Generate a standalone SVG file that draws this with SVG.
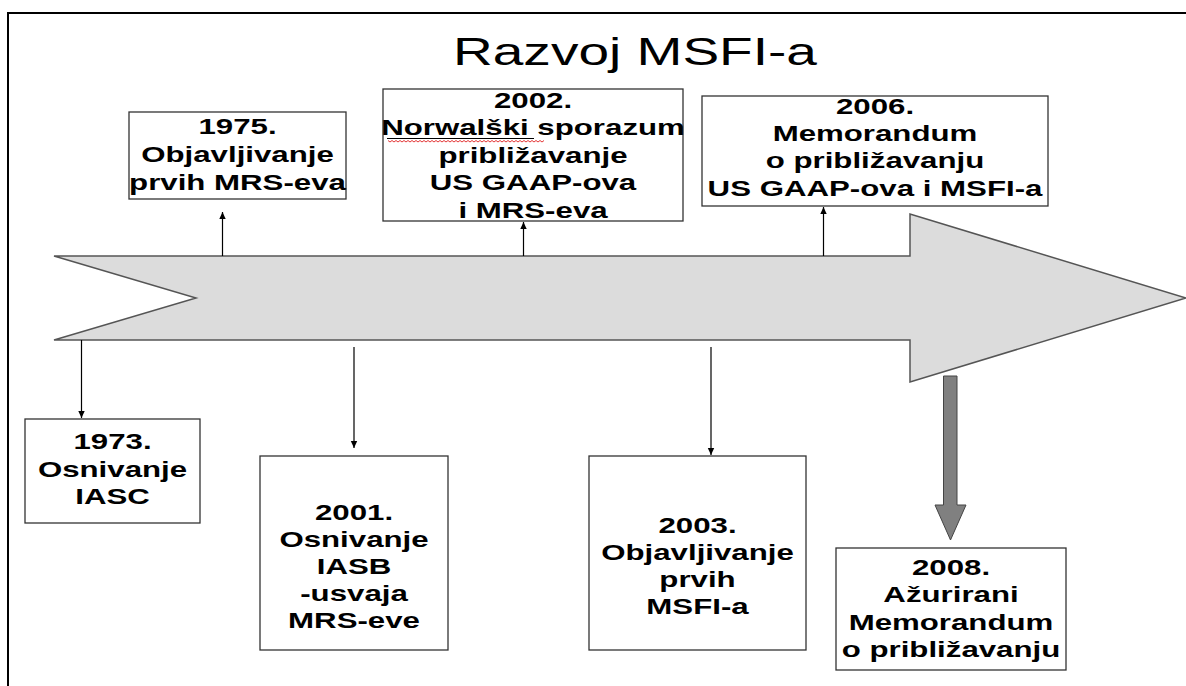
<svg xmlns="http://www.w3.org/2000/svg" width="1186" height="686" viewBox="0 0 1186 686">
<defs>
<marker id="ah" markerWidth="8" markerHeight="8" refX="7" refY="4" orient="auto" markerUnits="userSpaceOnUse"><path d="M0,0.8 L7,4 L0,7.2 Z" fill="#000"/></marker>
</defs>
<style>
.box{fill:#fff;stroke:#333;stroke-width:1.3}
.t{font-family:"Liberation Sans",Arial,sans-serif;font-weight:bold;font-size:22px;fill:#000;text-anchor:middle}
.con{stroke:#000;stroke-width:1.2;fill:none}
</style>
<rect width="1186" height="686" fill="#fff"/>
<path d="M8,686 V13 H1186" fill="none" stroke="#000" stroke-width="2"/>
<text id="title" x="635" y="65" font-family="Liberation Sans, Arial, sans-serif" font-size="38" textLength="364" lengthAdjust="spacingAndGlyphs" text-anchor="middle" fill="#000">Razvoj MSFI-a</text>
<polygon id="timeline" points="54,256 910,256 910,214 1186,298 910,382 910,340 54,340 196,298" fill="#dcdcdc" stroke="#555" stroke-width="1.5"/>
<g id="connectors">
<line class="con" x1="222.5" y1="256" x2="222.5" y2="212" marker-end="url(#ah)"/>
<line class="con" x1="523.5" y1="256" x2="523.5" y2="222" marker-end="url(#ah)"/>
<line class="con" x1="823.5" y1="256" x2="823.5" y2="207" marker-end="url(#ah)"/>
<line class="con" x1="81.5" y1="340" x2="81.5" y2="418" marker-end="url(#ah)"/>
<line class="con" x1="354" y1="347" x2="354" y2="448" marker-end="url(#ah)"/>
<line class="con" x1="711" y1="347" x2="711" y2="455" marker-end="url(#ah)"/>
<polygon points="943.5,376 957,376 957,505 966,505 950.5,540 935,505 943.5,505" fill="#808080" stroke="#444" stroke-width="1"/>
</g>
<g id="n1975">
<rect class="box" x="129" y="112" width="217" height="87"/>
<g transform="translate(237.5,0) scale(1.42,1)">
<text class="t" x="0" y="134">1975.</text>
<text class="t" x="0" y="162">Objavljivanje</text>
<text class="t" x="0" y="190">prvih MRS-eva</text>
</g>
</g>
<g id="n2002">
<rect class="box" x="383" y="89" width="300" height="132"/>
<g transform="translate(533,0) scale(1.42,1)">
<text class="t" x="0" y="108">2002.</text>
<text class="t" x="0" y="135.5">Norwalški sporazum</text>
<text class="t" x="0" y="163">približavanje</text>
<text class="t" x="0" y="190.5">US GAAP-ova</text>
<text class="t" x="0" y="218">i MRS-eva</text>
</g>
<line x1="387" y1="138.5" x2="534" y2="138.5" stroke="#000" stroke-width="1"/>
<path d="M388,140.5 l2,1.5 l2,-1.5 l2,1.5 l2,-1.5 l2,1.5 l2,-1.5 l2,1.5 l2,-1.5 l2,1.5 l2,-1.5 l2,1.5 l2,-1.5 l2,1.5 l2,-1.5 l2,1.5 l2,-1.5 l2,1.5 l2,-1.5 l2,1.5 l2,-1.5 l2,1.5 l2,-1.5 l2,1.5 l2,-1.5 l2,1.5 l2,-1.5 l2,1.5 l2,-1.5 l2,1.5 l2,-1.5 l2,1.5 l2,-1.5 l2,1.5 l2,-1.5 l2,1.5 l2,-1.5 l2,1.5 l2,-1.5 l2,1.5 l2,-1.5 l2,1.5 l2,-1.5 l2,1.5 l2,-1.5 l2,1.5 l2,-1.5 l2,1.5 l2,-1.5 l2,1.5 l2,-1.5 l2,1.5 l2,-1.5 l2,1.5 l2,-1.5 l2,1.5 l2,-1.5 l2,1.5 l2,-1.5 l2,1.5 l2,-1.5 l2,1.5 l2,-1.5 l2,1.5 l2,-1.5 l2,1.5 l2,-1.5 l2,1.5 l2,-1.5 l2,1.5 l2,-1.5 l2,1.5 l2,-1.5 l2,1.5 l2,-1.5 l2,1.5 l2,-1.5 l2,1.5 l2,-1.5" fill="none" stroke="#e02020" stroke-width="0.9"/>
</g>
<g id="n2006">
<rect class="box" x="702" y="96" width="346" height="110"/>
<g transform="translate(875,0) scale(1.42,1)">
<text class="t" x="0" y="114">2006.</text>
<text class="t" x="0" y="141">Memorandum</text>
<text class="t" x="0" y="168">o približavanju</text>
<text class="t" x="0" y="196">US GAAP-ova i MSFI-a</text>
</g>
</g>
<g id="n1973">
<rect class="box" x="25" y="419" width="175" height="104"/>
<g transform="translate(112.5,0) scale(1.42,1)">
<text class="t" x="0" y="449">1973.</text>
<text class="t" x="0" y="477">Osnivanje</text>
<text class="t" x="0" y="504">IASC</text>
</g>
</g>
<g id="n2001">
<rect class="box" x="260" y="456" width="188" height="194"/>
<g transform="translate(354,0) scale(1.42,1)">
<text class="t" x="0" y="520">2001.</text>
<text class="t" x="0" y="547">Osnivanje</text>
<text class="t" x="0" y="574">IASB</text>
<text class="t" x="0" y="601">-usvaja</text>
<text class="t" x="0" y="628">MRS-eve</text>
</g>
</g>
<g id="n2003">
<rect class="box" x="589" y="456" width="217" height="194"/>
<g transform="translate(697.5,0) scale(1.42,1)">
<text class="t" x="0" y="533">2003.</text>
<text class="t" x="0" y="560">Objavljivanje</text>
<text class="t" x="0" y="587">prvih</text>
<text class="t" x="0" y="614">MSFI-a</text>
</g>
</g>
<g id="n2008">
<rect class="box" x="836" y="548" width="230" height="122"/>
<g transform="translate(951,0) scale(1.42,1)">
<text class="t" x="0" y="575">2008.</text>
<text class="t" x="0" y="602">Ažurirani</text>
<text class="t" x="0" y="630">Memorandum</text>
<text class="t" x="0" y="657">o približavanju</text>
</g>
</g>
</svg>
